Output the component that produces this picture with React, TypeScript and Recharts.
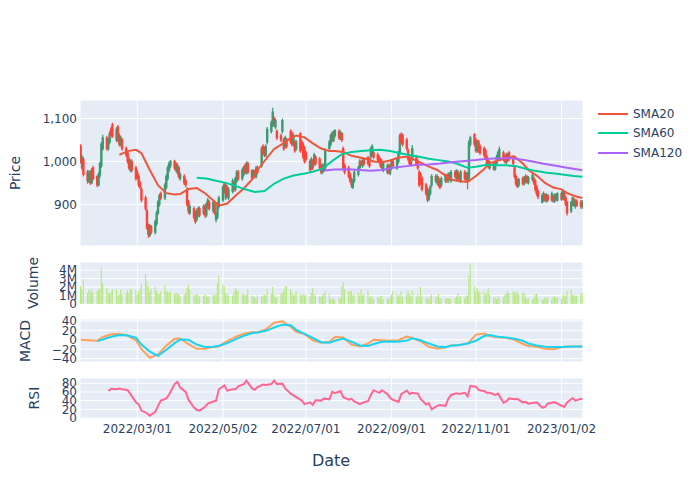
import React from 'react';
import { ComposedChart, Bar, Line, XAxis, YAxis, CartesianGrid } from 'recharts';

// ============================================================================
// Data
// ============================================================================

const startDate = '2022-01-19'; // first trading day, weekdays follow
const tickLabels = ['2022/03/01', '2022/05/02', '2022/07/01', '2022/09/01', '2022/11/01', '2023/01/02'];

const opens = [
  1035, 985, 1005, 975, 955, 975, 950, 985, 965, 945,
  968, 990, 1030, 1055, 1030, 1045, 1075, 1085, 1050, 1080,
  1060, 1040, 1050, 1030, 1020, 1005, 980, 1000, 985, 975,
  965, 950, 935, 915, 885, 850, 828, 848, 835, 855,
  880, 900, 925, 915, 940, 960, 980, 990, 1000, 995,
  975, 985, 960, 965, 955, 935, 905, 880, 890, 880,
  865, 875, 890, 880, 895, 875, 895, 905, 885, 900,
  865, 870, 895, 910, 948, 915, 940, 915, 930, 950,
  935, 955, 975, 960, 970, 990, 975, 995, 978, 965,
  975, 965, 985, 990, 1035, 1030, 1015, 1045, 1070, 1085,
  1100, 1080, 1070, 1060, 1070, 1050, 1035, 1050, 1070, 1065,
  1040, 1045, 1030, 1065, 1045, 1040, 1030, 1020, 1000, 985,
  1000, 995, 1010, 1005, 990, 975, 990, 985, 1030, 1040,
  1065, 1048, 1060, 1070, 1055, 1065, 1030, 990, 985, 970,
  958, 940, 955, 970, 985, 1000, 990, 1005, 1010, 1005,
  1010, 1015, 1020, 1015, 1010, 1003, 1000, 980, 975, 990,
  972, 985, 1000, 985, 1000, 1020, 1062, 1060, 1050, 1025,
  1010, 1000, 1005, 1010, 1000, 975, 970, 960, 945, 935,
  912, 925, 945, 965, 950, 960, 955, 945, 955, 965,
  955, 970, 955, 975, 960, 975, 968, 955, 975, 958,
  970, 960, 1040, 1062, 1050, 1025, 1045, 1035, 1030, 1025,
  1010, 1000, 985, 995, 982, 995, 1005, 1010, 1020, 1012,
  998, 1015, 1020, 1010, 985, 965, 955, 945, 960, 948,
  955, 965, 950, 958, 960, 955, 940, 930, 905, 910,
  922, 908, 920, 910, 918, 908, 922, 910, 925, 915,
  925, 915, 905, 885, 900, 912, 895, 908, 905, 895,
];

const highs = [
  1040, 1015, 1010, 980, 980, 978, 985, 990, 968, 975,
  1000, 1045, 1062, 1060, 1055, 1070, 1080, 1090, 1080, 1085,
  1065, 1060, 1055, 1035, 1025, 1010, 1005, 1005, 990, 980,
  970, 955, 940, 920, 890, 855, 855, 852, 865, 885,
  910, 925, 930, 950, 970, 990, 1000, 1003, 1004, 998,
  995, 990, 975, 970, 960, 940, 910, 900, 895, 885,
  890, 895, 895, 900, 900, 905, 915, 910, 910, 905,
  882, 905, 920, 945, 952, 950, 945, 940, 960, 955,
  965, 980, 980, 985, 990, 995, 1000, 1000, 982, 982,
  980, 990, 990, 1035, 1040, 1035, 1040, 1080, 1095, 1125,
  1105, 1100, 1075, 1065, 1100, 1055, 1060, 1055, 1075, 1070,
  1065, 1050, 1050, 1068, 1050, 1045, 1035, 1025, 1005, 1010,
  1005, 1020, 1015, 1010, 995, 995, 995, 1030, 1050, 1065,
  1070, 1072, 1075, 1075, 1072, 1068, 1035, 995, 990, 975,
  962, 960, 980, 990, 1005, 1004, 1005, 1008, 1012, 1008,
  1035, 1040, 1025, 1020, 1015, 1008, 1005, 1000, 995, 995,
  995, 1005, 1005, 1010, 1025, 1065, 1068, 1065, 1055, 1030,
  1015, 1005, 1038, 1015, 1005, 980, 975, 965, 950, 940,
  935, 945, 970, 970, 970, 965, 960, 965, 972, 970,
  975, 975, 980, 980, 982, 980, 972, 980, 980, 976,
  975, 1050, 1060, 1066, 1055, 1050, 1050, 1040, 1035, 1030,
  1015, 1005, 1002, 1000, 1000, 1015, 1025, 1035, 1025, 1016,
  1020, 1020, 1025, 1015, 990, 970, 960, 962, 965, 966,
  970, 968, 966, 972, 965, 958, 945, 935, 925, 930,
  926, 926, 924, 930, 922, 926, 926, 928, 930, 934,
  930, 920, 908, 908, 918, 916, 912, 912, 910, 910,
];

const lows = [
  995, 980, 965, 948, 950, 945, 948, 955, 940, 942,
  962, 985, 1025, 1025, 1025, 1040, 1055, 1055, 1045, 1045,
  1035, 1035, 1025, 1010, 995, 980, 975, 975, 955, 958,
  940, 935, 905, 885, 840, 822, 824, 830, 830, 850,
  875, 895, 910, 910, 935, 955, 975, 985, 980, 975,
  970, 960, 955, 945, 940, 895, 878, 875, 865, 855,
  860, 870, 870, 875, 868, 870, 890, 885, 880, 875,
  858, 865, 890, 905, 925, 910, 915, 910, 925, 930,
  930, 950, 955, 955, 965, 970, 970, 970, 958, 960,
  960, 960, 970, 985, 1015, 1010, 1010, 1040, 1065, 1080,
  1080, 1075, 1050, 1045, 1065, 1025, 1030, 1030, 1040, 1035,
  1035, 1020, 1025, 1020, 1025, 1005, 995, 1000, 975, 980,
  980, 990, 990, 980, 970, 970, 975, 980, 1025, 1035,
  1045, 1045, 1055, 1050, 1050, 1045, 980, 970, 960, 950,
  938, 936, 950, 965, 980, 988, 985, 990, 990, 985,
  1005, 1010, 1005, 1000, 995, 985, 980, 975, 970, 970,
  968, 980, 985, 980, 995, 1015, 1040, 1035, 1025, 1000,
  990, 988, 1000, 990, 980, 940, 945, 930, 920, 905,
  908, 920, 940, 950, 945, 940, 935, 940, 950, 950,
  950, 955, 950, 960, 955, 955, 952, 950, 955, 954,
  935, 955, 1035, 1035, 1020, 1020, 1020, 1015, 1010, 1003,
  990, 983, 980, 978, 978, 990, 1000, 1005, 1000, 995,
  994, 998, 1000, 990, 960, 943, 938, 940, 944, 944,
  950, 948, 946, 954, 945, 930, 920, 912, 902, 906,
  906, 904, 906, 906, 904, 904, 908, 906, 908, 910,
  908, 896, 874, 880, 896, 894, 890, 894, 890, 890,
];

const closes = [
  1000, 1010, 970, 955, 975, 950, 980, 960, 945, 970,
  995, 1040, 1055, 1030, 1050, 1065, 1060, 1060, 1075, 1050,
  1040, 1055, 1030, 1015, 1000, 985, 1000, 980, 960, 965,
  945, 940, 910, 890, 845, 830, 850, 835, 860, 880,
  905, 920, 915, 945, 965, 985, 995, 1000, 985, 980,
  990, 965, 970, 950, 945, 900, 885, 895, 870, 860,
  885, 890, 875, 895, 875, 900, 910, 890, 905, 880,
  878, 900, 915, 940, 930, 945, 920, 935, 955, 935,
  960, 975, 960, 980, 985, 975, 995, 975, 962, 978,
  965, 985, 975, 1030, 1020, 1015, 1035, 1075, 1090, 1115,
  1085, 1095, 1055, 1050, 1095, 1030, 1055, 1035, 1045, 1040,
  1060, 1025, 1045, 1025, 1030, 1010, 1000, 1005, 980, 1005,
  985, 1015, 995, 985, 975, 990, 980, 1025, 1045, 1060,
  1050, 1068, 1072, 1055, 1068, 1050, 985, 975, 965, 955,
  945, 955, 975, 985, 1000, 992, 1000, 995, 995, 990,
  1030, 1035, 1010, 1005, 998, 990, 985, 995, 990, 975,
  990, 1000, 990, 1005, 1022, 1060, 1045, 1040, 1030, 1005,
  995, 992, 1030, 995, 985, 945, 950, 935, 925, 910,
  930, 940, 965, 955, 965, 945, 940, 960, 968, 955,
  970, 960, 975, 965, 978, 960, 958, 975, 960, 972,
  955, 1045, 1055, 1040, 1025, 1045, 1025, 1020, 1015, 1008,
  995, 988, 998, 982, 995, 1010, 1020, 1028, 1005, 1000,
  1015, 1002, 1005, 995, 965, 948, 942, 958, 948, 962,
  965, 952, 962, 968, 950, 935, 925, 918, 920, 925,
  910, 922, 910, 925, 908, 922, 912, 925, 912, 930,
  912, 900, 880, 905, 915, 898, 908, 898, 895, 905,
];

// volume in millions of shares
const volumes = [
  2.1, 1.7, 2.9, 1.3, 1.7, 1.5, 1.7, 1.3, 1.55, 1.7,
  1.75, 4.27, 2.5, 1.9, 1.35, 1.2, 1.3, 1.7, 1.7, 1.0,
  1.1, 1.7, 1.1, 1.35, 1.6, 1.3, 1.8, 1.7, 1.7, 1.1,
  1.5, 1.7, 2.35, 3.55, 2.7, 2.1, 1.5, 1.8, 2.0, 1.5,
  1.2, 1.15, 1.5, 2.3, 1.55, 1.5, 1.35, 1.5, 1.2, 1.35,
  1.3, 1.1, 0.9, 1.1, 1.35, 1.9, 2.3, 1.7, 1.1, 1.0,
  1.15, 1.1, 0.9, 0.95, 1.1, 1.0, 0.8, 0.9, 1.1, 1.0,
  1.2, 2.5, 3.3, 2.3, 2.1, 1.3, 1.1, 1.0, 1.0, 1.5,
  1.9, 1.7, 1.5, 1.2, 1.1, 1.0, 1.1, 1.7, 1.0, 0.9,
  0.8, 0.7, 1.0, 0.9, 1.0, 1.1, 1.0, 1.7, 1.2, 2.0,
  1.1, 0.8, 0.8, 1.2, 1.3, 1.6, 2.0, 2.1, 1.7, 1.3,
  1.0, 1.1, 1.5, 1.1, 1.0, 1.2, 1.0, 1.1, 0.9, 1.3,
  1.9, 1.2, 1.0, 0.9, 0.8, 1.0, 1.2, 1.5, 1.3, 0.6,
  0.5, 0.7, 0.5, 0.8, 0.6, 2.1, 2.6, 1.7, 1.5, 1.5,
  1.55, 1.0, 1.1, 1.3, 1.0, 1.7, 1.0, 1.1, 1.6, 0.7,
  0.9, 0.8, 0.6, 0.8, 0.7, 0.9, 1.0, 0.6, 0.7, 0.6,
  0.8, 1.1, 1.55, 1.2, 0.9, 1.1, 1.5, 0.8, 1.1, 1.6,
  1.2, 0.9, 1.6, 0.8, 1.2, 0.9, 2.0, 0.9, 0.7, 0.8,
  0.6, 0.9, 1.1, 0.8, 0.9, 1.2, 0.7, 0.6, 0.6, 0.7,
  0.7, 0.6, 0.6, 0.7, 0.9, 1.3, 0.8, 0.9, 0.7, 1.0,
  1.0, 3.3, 4.72, 2.1, 1.5, 1.9, 1.5, 1.4, 1.5, 1.1,
  1.3, 1.9, 1.1, 0.7, 0.8, 0.6, 0.9, 0.7, 0.8, 1.1,
  1.2, 1.55, 1.3, 1.5, 1.4, 1.3, 1.5, 1.1, 1.3, 1.3,
  0.8, 0.6, 0.7, 0.5, 0.7, 1.1, 1.2, 0.7, 0.6, 0.5,
  0.8, 0.7, 0.8, 0.6, 0.8, 0.9, 0.7, 0.8, 0.6, 1.1,
  1.0, 0.9, 1.55, 1.7, 1.1, 1.0, 1.0, 1.0, 1.2, 1.3,
];

// indicator lines, sampled every few trading days (start index, step)
const sma20Start = 20;
const sma20Step = 4;
const sma20 = [
  1015, 1024, 1027, 1019, 980, 944, 926, 923, 924, 936,
  938, 926, 909, 897, 902, 920, 937, 958, 980, 1005,
  1029, 1041, 1054, 1060, 1056, 1042, 1030, 1024, 1024, 1022,
  1013, 1009, 1005, 1000, 998, 1002, 1009, 1011, 1006, 997,
  988, 980, 967, 958, 954, 952, 966, 982, 996, 1002,
  1008, 1011, 995, 980, 967, 950, 939, 935, 926, 919,
  915,
];

const sma60Start = 60;
const sma60Step = 5;
const sma60 = [
  962, 960, 955, 950, 943, 935, 929, 931, 948, 960,
  967, 971, 976, 983, 1001, 1017, 1022, 1024, 1026, 1027,
  1024, 1019, 1015, 1011, 1006, 1003, 1000, 994, 985, 988,
  992, 991, 991, 989, 983, 978, 974, 972, 969, 966,
  964,
];

const sma120Start = 126;
const sma120Step = 6;
const sma120 = [
  979, 981, 982, 980, 978, 980, 985, 989, 992, 993,
  995, 998, 1001, 1003, 1006, 1007, 1008, 1004, 999, 994,
  990, 985, 980, 979,
];

const macdStart = 0;
const macdStep = 4;
const macd = [
  0, -1, -2, 6, 11.5, 12.7, 9, -1, -20, -38,
  -31, -12, 2, 2.8, -9, -19, -19, -15, -14, -3,
  6, 13, 16, 16, 22, 36, 39, 27, 17, 12,
  -1, -6, -4, 5.7, 5, -10, -14, -8, 0, -1,
  -2, -1, 7, 4, -3, -15, -19, -16, -12, -11,
  -8, 11, 13.5, 8, 5.5, 4, 0, -9, -13, -15,
  -19, -20, -16, -14, -14, -14,
];

const signalStart = 8;
const signalStep = 4;
const signal = [
  -2.8, 0.5, 6.5, 10, 9, 4.5, -10, -25, -34, -21,
  -7, 0.5, 0, -10, -15.5, -14.5, -12.5, -7, 1, 8.5,
  14.5, 15.5, 19, 26, 32, 31, 21, 12.5, 4, -5,
  -6, -2, 2.5, -4, -12, -13, -9, -4, -3.5, -4,
  -1.5, 3, -1, -8, -14, -15.5, -12.5, -11, -8, -2,
  8, 10, 6.5, 5, 2, -2, -8, -12, -14.5, -15.5,
  -15.5, -14.5, -14, -14,
];

const rsiStart = 14;
const rsiStep = 2;
const rsi = [
  62, 67, 66, 68, 66, 64, 55, 36, 31, 17,
  11, 5, 14, 28, 40, 45, 54, 78, 83, 70,
  60, 42, 24, 19, 17, 26, 33, 38, 40, 66,
  75, 63, 66, 66, 73, 78, 86, 68, 65, 71,
  77, 76, 78, 86, 78, 79, 68, 56, 52, 48,
  40, 32, 36, 30, 41, 40, 45, 43, 60, 57,
  62, 48, 42, 44, 38, 32, 35, 39, 53, 64,
  58, 64, 55, 46, 42, 37, 55, 63, 55, 58,
  56, 44, 31, 34, 20, 28, 30, 28, 44, 53,
  57, 55, 58, 50, 74, 72, 64, 62, 58, 58,
  53, 56, 35, 38, 45, 43, 44, 36, 37, 33,
  35, 36, 24, 25, 33, 36, 35, 28, 26, 36,
  46, 40, 44, 43,
];

// ============================================================================
// Styling
// ============================================================================

const INK = '#2a3f5f';
const PLOT_BG = '#E5ECF6';
const UP = '#3D9970';
const DOWN = '#FF4136';
const FONT = "'DejaVu Sans', Verdana, sans-serif";
const CHART_W = 700;
const AXIS_W = 80;
const RIGHT = 117;

const series = [
  { key: 'sma20', name: 'SMA20', color: '#EF553B' },
  { key: 'sma60', name: 'SMA60', color: '#00CC96' },
  { key: 'sma120', name: 'SMA120', color: '#AB63FA' },
];

// ============================================================================
// Build rows
// ============================================================================

const DAY = 86400000;

function tradingDays(start: string, n: number): number[] {
  const out: number[] = [];
  let d = Date.parse(start) / DAY;
  while (out.length < n) {
    const wd = new Date(d * DAY).getUTCDay();
    if (wd !== 0 && wd !== 6) out.push(d);
    d += 1;
  }
  return out;
}

const days = tradingDays(startDate, closes.length);
const n = days.length;

const rows: any[] = days.map((t, i) => ({
  t,
  o: opens[i],
  h: highs[i],
  l: lows[i],
  c: closes[i],
  range: [lows[i], highs[i]],
  v: volumes[i] * 1e6,
}));

function addSamples(key: string, start: number, step: number, values: number[]) {
  values.forEach((v, k) => {
    const idx = Math.min(start + k * step, n - 1);
    rows[idx][key] = v;
  });
}

addSamples('sma20', sma20Start, sma20Step, sma20);
addSamples('sma60', sma60Start, sma60Step, sma60);
addSamples('sma120', sma120Start, sma120Step, sma120);
addSamples('macd', macdStart, macdStep, macd);
addSamples('signal', signalStart, signalStep, signal);
addSamples('rsi', rsiStart, rsiStep, rsi);

const xDomain = [days[0] - 0.5, days[n - 1] + 0.5];
const xTicks = tickLabels.map((s) => Date.parse(s.replace(/\//g, '-')) / DAY);

function fmtDate(t: number): string {
  const d = new Date(t * DAY);
  const mm = String(d.getUTCMonth() + 1).padStart(2, '0');
  const dd = String(d.getUTCDate()).padStart(2, '0');
  return `${d.getUTCFullYear()}/${mm}/${dd}`;
}

const fmtPrice = (v: number) => v.toLocaleString('en-US');
const fmtVolume = (v: number) => (v === 0 ? '0' : `${v / 1e6}M`);
const fmtSigned = (v: number) => (v < 0 ? `\u2212${Math.abs(v)}` : String(v));

// ============================================================================
// Components
// ============================================================================

function Candle(props: any) {
  const { x, y, width, height } = props;
  const d = props.payload ?? props;
  const span = d.h - d.l || 1;
  const py = (v: number) => y + ((d.h - v) / span) * height;
  const color = d.c >= d.o ? UP : DOWN;
  const cx = x + width / 2;
  const top = py(Math.max(d.o, d.c));
  const bottom = py(Math.min(d.o, d.c));
  return (
    <g>
      <line x1={cx} x2={cx} y1={y} y2={y + height} stroke={color} strokeWidth={1.2} />
      <rect x={cx - 1.2} y={top - 0.5} width={2.4} height={Math.max(bottom - top, 0) + 1} fill={color} />
    </g>
  );
}

interface PanelProps {
  top: number;
  plotHeight: number;
  domain: number[];
  ticks: number[];
  format: (v: number) => string;
  showX?: boolean;
  children: React.ReactNode;
}

function Panel({ top, plotHeight, domain, ticks, format, showX = false, children }: PanelProps) {
  const xAxisH = showX ? 30 : 0;
  const height = 10 + plotHeight + (showX ? xAxisH : 10);
  return (
    <div style={{ position: 'absolute', left: 0, top: top - 10 }}>
      <ComposedChart
        width={CHART_W}
        height={height}
        data={rows}
        margin={{ top: 10, right: RIGHT, bottom: showX ? 0 : 10, left: 0 }}
      >
        <CartesianGrid fill={PLOT_BG} fillOpacity={1} stroke="#ffffff" strokeWidth={1} />
        <XAxis
          dataKey="t"
          type="number"
          domain={xDomain}
          ticks={xTicks}
          interval={0}
          allowDataOverflow
          hide={!showX}
          height={xAxisH}
          tickFormatter={fmtDate}
          tick={{ fill: INK, fontSize: 12 }}
          tickLine={false}
          axisLine={false}
          tickSize={0}
          tickMargin={5}
        />
        <YAxis
          type="number"
          width={AXIS_W}
          domain={domain}
          ticks={ticks}
          interval={0}
          allowDataOverflow
          tickFormatter={format}
          tick={{ fill: INK, fontSize: 12 }}
          tickLine={false}
          axisLine={false}
          tickSize={1}
          tickMargin={2}
        />
        {children}
      </ComposedChart>
    </div>
  );
}

function AxisTitle({ x, y, text }: { x: number; y: number; text: string }) {
  return (
    <div
      style={{
        position: 'absolute',
        left: x,
        top: y,
        transform: 'translate(-50%, -50%) rotate(-90deg)',
        fontSize: 14,
        color: INK,
        whiteSpace: 'nowrap',
        lineHeight: 1,
      }}
    >
      {text}
    </div>
  );
}

export default function App() {
  return (
    <div
      style={{
        position: 'absolute',
        left: 0,
        top: 0,
        width: 700,
        height: 500,
        background: '#ffffff',
        fontFamily: FONT,
        overflow: 'hidden',
      }}
    >
      {/* price + moving averages */}
      <Panel top={100} plotHeight={146} domain={[803, 1143]} ticks={[900, 1000, 1100]} format={fmtPrice}>
        <Bar dataKey="range" shape={<Candle />} isAnimationActive={false} />
        {series.map((s) => (
          <Line
            key={s.key}
            dataKey={s.key}
            stroke={s.color}
            strokeWidth={2}
            dot={false}
            activeDot={false}
            connectNulls
            type="linear"
            isAnimationActive={false}
          />
        ))}
      </Panel>

      {/* volume */}
      <Panel
        top={262}
        plotHeight={42}
        domain={[0, 4.96e6]}
        ticks={[0, 1e6, 2e6, 3e6, 4e6]}
        format={fmtVolume}
      >
        <Bar dataKey="v" fill="#B6E880" barSize={1.1} isAnimationActive={false} />
      </Panel>

      {/* MACD */}
      <Panel top={319} plotHeight={43} domain={[-47, 44]} ticks={[-40, -20, 0, 20, 40]} format={fmtSigned}>
        <Line dataKey="macd" stroke="#FFA15A" strokeWidth={2} dot={false} activeDot={false} connectNulls isAnimationActive={false} />
        <Line dataKey="signal" stroke="#19D3F3" strokeWidth={2} dot={false} activeDot={false} connectNulls isAnimationActive={false} />
      </Panel>

      {/* RSI */}
      <Panel top={378} plotHeight={41} domain={[-2.3, 92]} ticks={[0, 20, 40, 60, 80]} format={fmtSigned} showX>
        <Line dataKey="rsi" stroke="#FF6692" strokeWidth={2} dot={false} activeDot={false} connectNulls isAnimationActive={false} />
      </Panel>

      <AxisTitle x={15} y={173} text="Price" />
      <AxisTitle x={33} y={283} text="Volume" />
      <AxisTitle x={25} y={341} text="MACD" />
      <AxisTitle x={34} y={398} text="RSI" />

      <div
        style={{
          position: 'absolute',
          left: 331,
          top: 461,
          transform: 'translate(-50%, -50%)',
          fontSize: 16,
          color: INK,
          whiteSpace: 'nowrap',
          lineHeight: 1,
        }}
      >
        Date
      </div>

      {/* legend */}
      {series.map((s, k) => (
        <div key={s.key} style={{ position: 'absolute', left: 598, top: 106 + k * 19.3, height: 16 }}>
          <svg width={30} height={16} style={{ display: 'block' }}>
            <line x1={0} x2={30} y1={8} y2={8} stroke={s.color} strokeWidth={2} />
          </svg>
          <span
            style={{
              position: 'absolute',
              left: 35,
              top: 0,
              lineHeight: '16px',
              fontSize: 12,
              color: INK,
              whiteSpace: 'nowrap',
            }}
          >
            {s.name}
          </span>
        </div>
      ))}
    </div>
  );
}
